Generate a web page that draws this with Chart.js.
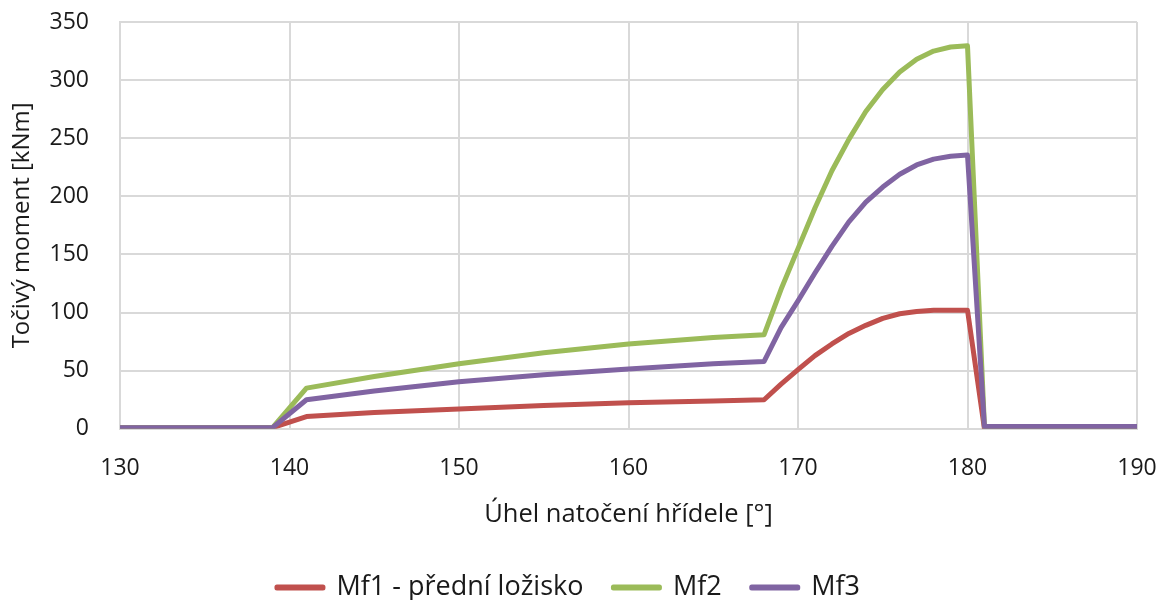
<!DOCTYPE html>
<html>
<head>
<meta charset="utf-8">
<script src="https://cdn.jsdelivr.net/npm/chart.js@4.4.1/dist/chart.umd.min.js"></script>
<style>
  html, body { margin: 0; padding: 0; background: #fff; }
  #wrap { width: 1164px; height: 600px; }
</style>
</head>
<body>
<div id="wrap"><canvas id="chart" width="1164" height="600"></canvas></div>
<script>
// shaft angle [deg] and moments [kNm]
const angles = [130, 139, 141, 145, 150, 155, 160, 165, 168, 169, 170, 171, 172, 173, 174, 175, 176, 177, 178, 179, 180, 181, 190];
const mf1 = [1, 1, 10.5, 14, 17, 20, 22.5, 24, 25, 38.5, 51, 63, 73, 82, 89, 95, 99, 101, 102, 102, 102, 0, 0];
const mf2 = [1, 1, 35, 45, 56, 65.5, 73, 78.5, 81, 120, 155, 190, 222, 249, 273, 292, 307, 318, 325, 328.5, 329.5, 2, 2];
const mf3 = [1, 1, 25, 32.5, 40.5, 46.5, 51.5, 56, 58, 87, 110, 134, 157, 178, 195, 208, 219, 227, 232, 234.5, 235.5, 2, 2];

const seriesNames = ['Mf1 - přední ložisko', 'Mf2', 'Mf3'];
const seriesColors = ['#c0504d', '#9bbb59', '#8064a2'];
const xTicks = [130, 140, 150, 160, 170, 180, 190];
const yTicks = [0, 50, 100, 150, 200, 250, 300, 350];

const FONT = '"Open Sans", Lato, sans-serif';
const TEXT = '#1a1a1a';
const GRID = '#d9d9d9';

const toPoints = ys => angles.map((a, i) => ({ x: a, y: ys[i] }));

const datasets = [mf1, mf2, mf3].map((ys, i) => ({
  label: seriesNames[i],
  data: toPoints(ys),
  borderColor: seriesColors[i],
  backgroundColor: seriesColors[i],
  borderWidth: 5,
  borderJoinStyle: 'round',
  pointRadius: 0,
  tension: 0,
  order: 3 - i   // Mf3 drawn on top
}));

new Chart(document.getElementById('chart'), {
  type: 'line',
  data: { datasets },
  options: {
    responsive: false,
    animation: false,
    layout: { padding: { left: 0, right: 27, top: 22, bottom: -11 } },
    plugins: {
      tooltip: { enabled: false },
      legend: {
        position: 'bottom',
        labels: {
          color: TEXT,
          font: { family: FONT, size: 27 },
          boxWidth: 46,
          boxHeight: 1,
          padding: 30,
          sort: (a, b) => a.datasetIndex - b.datasetIndex
        }
      }
    },
    scales: {
      x: {
        type: 'linear',
        min: 130,
        max: 190,
        afterBuildTicks: s => { s.ticks = xTicks.map(v => ({ value: v })); },
        afterFit: s => { s.paddingLeft = 0; s.paddingRight = 0; },
        grid: { color: GRID, lineWidth: 2, drawTicks: false },
        border: { color: GRID, width: 2 },
        ticks: { color: TEXT, font: { family: FONT, size: 23 }, padding: 26, maxRotation: 0 },
        title: {
          display: true,
          text: 'Úhel natočení hřídele [°]',
          color: TEXT,
          font: { family: FONT, size: 25.5 },
          padding: { top: -9, bottom: 14 }
        }
      },
      y: {
        min: 0,
        max: 350,
        afterBuildTicks: s => { s.ticks = yTicks.map(v => ({ value: v })); },
        afterFit: s => { s.width = 120; s.paddingTop = 0; s.paddingBottom = 0; },
        grid: { color: GRID, lineWidth: 2, drawTicks: false },
        border: { color: GRID, width: 2 },
        ticks: { color: TEXT, font: { family: FONT, size: 23 }, padding: 31 },
        title: {
          display: true,
          text: 'Točivý moment [kNm]',
          color: TEXT,
          font: { family: FONT, size: 24 },
          padding: { top: 8, bottom: 0 }
        }
      }
    }
  }
});
</script>
</body>
</html>
